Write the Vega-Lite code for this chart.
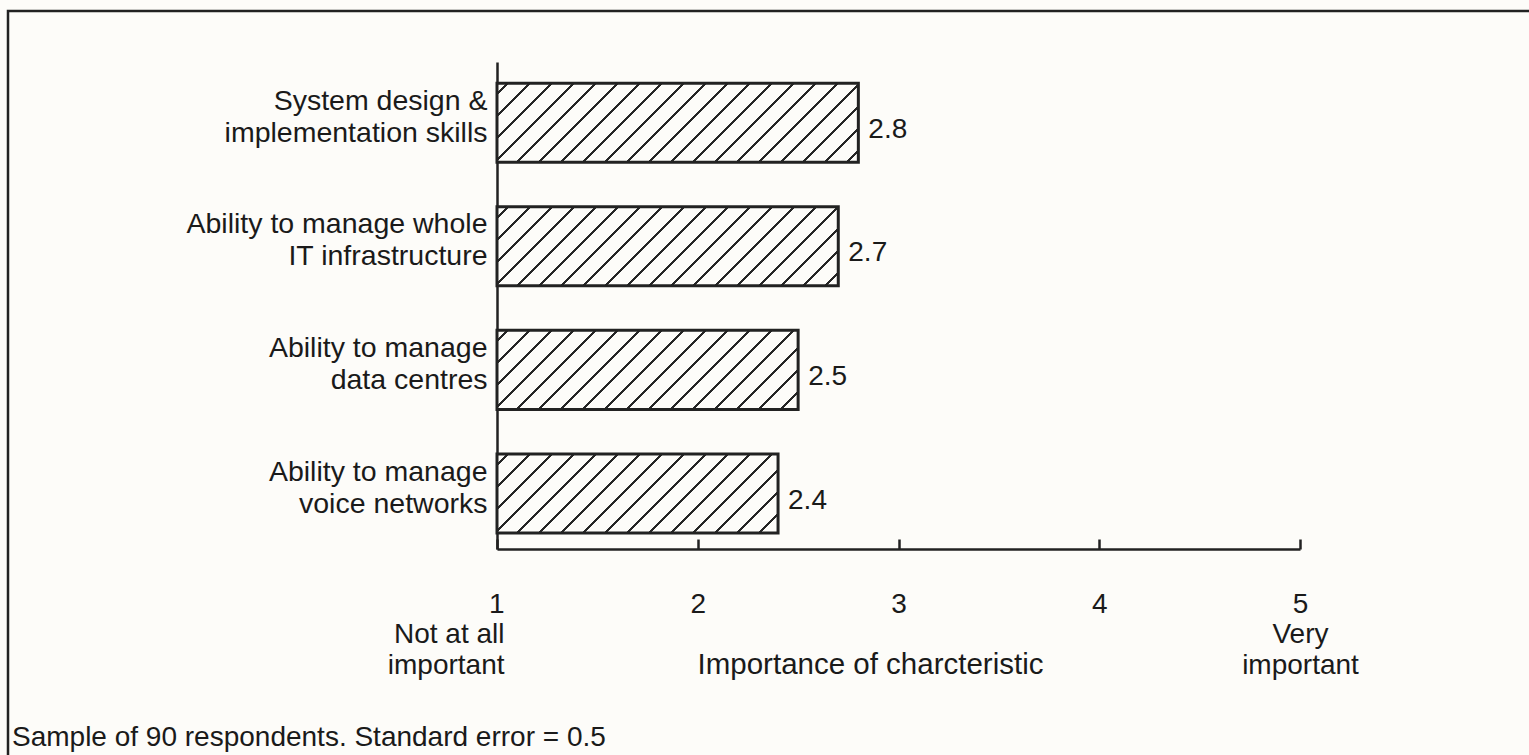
{
  "$schema": "https://vega.github.io/schema/vega-lite/v6.json",
  "width": 1524,
  "height": 747,
  "autosize": {"type": "none"},
  "padding": {"left": 8, "top": 11, "right": 0, "bottom": 0},
  "background": "#fdfcf9",
  "config": {
    "font": "Liberation Sans",
    "view": {"stroke": "#222222", "strokeWidth": 2.5}
  },
  "title": {
    "text": "Sample of 90 respondents. Standard error = 0.5",
    "orient": "bottom",
    "anchor": "start",
    "frame": "group",
    "offset": -12,
    "dx": 4,
    "baseline": "alphabetic",
    "font": "Liberation Sans",
    "fontSize": 28,
    "fontWeight": "normal",
    "color": "#1a1a1a"
  },
  "data": {
    "values": [
      {"skill": "System design &\nimplementation skills", "score": 2.8},
      {"skill": "Ability to manage whole\nIT infrastructure", "score": 2.7},
      {"skill": "Ability to manage\ndata centres", "score": 2.5},
      {"skill": "Ability to manage\nvoice networks", "score": 2.4}
    ]
  },
  "layer": [
    {
      "mark": {"type": "bar", "stroke": "#222222", "strokeWidth": 3},
      "encoding": {
        "x": {
          "field": "score",
          "type": "quantitative",
          "scale": {"domain": [1, 5], "range": [489, 1292], "nice": false, "zero": false},
          "axis": {
            "orient": "bottom",
            "offset": -209,
            "values": [1, 2, 3, 4, 5],
            "format": "d",
            "grid": false,
            "domainColor": "#222222",
            "domainWidth": 2.5,
            "tickColor": "#222222",
            "tickWidth": 2.5,
            "tickSize": -10,
            "labelFont": "Liberation Sans",
            "labelFontSize": 28,
            "labelColor": "#1a1a1a",
            "labelFlush": false,
            "labelOverlap": false,
            "labelBound": false,
            "labelPadding": 51,
            "labelBaseline": "top",
            "labelLineHeight": 30.5,
            "labelExpr": "datum.value == 1 ? ['1', 'Not at all', 'important'] : datum.value == 5 ? ['5', 'Very', 'important'] : datum.label",
            "labelAlign": {"condition": {"test": "datum.value == 1", "value": "right"}, "value": "center"},
            "labelOffset": {"condition": {"test": "datum.value == 1", "value": 7}, "value": 0},
            "title": "Importance of charcteristic",
            "titleFont": "Liberation Sans",
            "titleFontSize": 29.5,
            "titleFontWeight": "normal",
            "titleColor": "#1a1a1a",
            "titleX": 862,
            "titleY": 124,
            "titleAlign": "center",
            "titleBaseline": "alphabetic"
          }
        },
        "x2": {"datum": 1},
        "y": {
          "field": "skill",
          "type": "nominal",
          "sort": null,
          "scale": {"range": [51, 538], "paddingInner": 0.36, "paddingOuter": 0.15, "align": 0.57},
          "axis": {
            "orient": "left",
            "offset": -489,
            "title": null,
            "ticks": false,
            "grid": false,
            "domainColor": "#222222",
            "domainWidth": 2.5,
            "labelFont": "Liberation Sans",
            "labelFontSize": 28.5,
            "labelColor": "#1a1a1a",
            "labelPadding": 10,
            "labelLineHeight": 32,
            "labelLimit": 0,
            "labelOffset": -22,
            "labelExpr": "split(datum.label, '\\n')"
          }
        },
        "fill": {
          "condition": [
            {"test": "datum.score == 2.8", "value": {"gradient": "linear", "x1": 0, "y1": 0, "x2": 1.1632, "y2": 0.2546, "stops": [
              {"offset": 0, "color": "#fdfcf9"},
              {"offset": 0.02134, "color": "#fdfcf9"}, {"offset": 0.02134, "color": "#262626"}, {"offset": 0.02861, "color": "#262626"}, {"offset": 0.02861, "color": "#fdfcf9"},
              {"offset": 0.07129, "color": "#fdfcf9"}, {"offset": 0.07129, "color": "#262626"}, {"offset": 0.07856, "color": "#262626"}, {"offset": 0.07856, "color": "#fdfcf9"},
              {"offset": 0.12124, "color": "#fdfcf9"}, {"offset": 0.12124, "color": "#262626"}, {"offset": 0.12851, "color": "#262626"}, {"offset": 0.12851, "color": "#fdfcf9"},
              {"offset": 0.17119, "color": "#fdfcf9"}, {"offset": 0.17119, "color": "#262626"}, {"offset": 0.17846, "color": "#262626"}, {"offset": 0.17846, "color": "#fdfcf9"},
              {"offset": 0.22114, "color": "#fdfcf9"}, {"offset": 0.22114, "color": "#262626"}, {"offset": 0.22841, "color": "#262626"}, {"offset": 0.22841, "color": "#fdfcf9"},
              {"offset": 0.27109, "color": "#fdfcf9"}, {"offset": 0.27109, "color": "#262626"}, {"offset": 0.27836, "color": "#262626"}, {"offset": 0.27836, "color": "#fdfcf9"},
              {"offset": 0.32104, "color": "#fdfcf9"}, {"offset": 0.32104, "color": "#262626"}, {"offset": 0.32831, "color": "#262626"}, {"offset": 0.32831, "color": "#fdfcf9"},
              {"offset": 0.37098, "color": "#fdfcf9"}, {"offset": 0.37098, "color": "#262626"}, {"offset": 0.37825, "color": "#262626"}, {"offset": 0.37825, "color": "#fdfcf9"},
              {"offset": 0.42093, "color": "#fdfcf9"}, {"offset": 0.42093, "color": "#262626"}, {"offset": 0.42820, "color": "#262626"}, {"offset": 0.42820, "color": "#fdfcf9"},
              {"offset": 0.47088, "color": "#fdfcf9"}, {"offset": 0.47088, "color": "#262626"}, {"offset": 0.47815, "color": "#262626"}, {"offset": 0.47815, "color": "#fdfcf9"},
              {"offset": 0.52083, "color": "#fdfcf9"}, {"offset": 0.52083, "color": "#262626"}, {"offset": 0.52810, "color": "#262626"}, {"offset": 0.52810, "color": "#fdfcf9"},
              {"offset": 0.57078, "color": "#fdfcf9"}, {"offset": 0.57078, "color": "#262626"}, {"offset": 0.57805, "color": "#262626"}, {"offset": 0.57805, "color": "#fdfcf9"},
              {"offset": 0.62073, "color": "#fdfcf9"}, {"offset": 0.62073, "color": "#262626"}, {"offset": 0.62800, "color": "#262626"}, {"offset": 0.62800, "color": "#fdfcf9"},
              {"offset": 0.67068, "color": "#fdfcf9"}, {"offset": 0.67068, "color": "#262626"}, {"offset": 0.67795, "color": "#262626"}, {"offset": 0.67795, "color": "#fdfcf9"},
              {"offset": 0.72063, "color": "#fdfcf9"}, {"offset": 0.72063, "color": "#262626"}, {"offset": 0.72790, "color": "#262626"}, {"offset": 0.72790, "color": "#fdfcf9"},
              {"offset": 0.77058, "color": "#fdfcf9"}, {"offset": 0.77058, "color": "#262626"}, {"offset": 0.77785, "color": "#262626"}, {"offset": 0.77785, "color": "#fdfcf9"},
              {"offset": 0.82052, "color": "#fdfcf9"}, {"offset": 0.82052, "color": "#262626"}, {"offset": 0.82779, "color": "#262626"}, {"offset": 0.82779, "color": "#fdfcf9"},
              {"offset": 0.87047, "color": "#fdfcf9"}, {"offset": 0.87047, "color": "#262626"}, {"offset": 0.87774, "color": "#262626"}, {"offset": 0.87774, "color": "#fdfcf9"},
              {"offset": 0.92042, "color": "#fdfcf9"}, {"offset": 0.92042, "color": "#262626"}, {"offset": 0.92769, "color": "#262626"}, {"offset": 0.92769, "color": "#fdfcf9"},
              {"offset": 0.97037, "color": "#fdfcf9"}, {"offset": 0.97037, "color": "#262626"}, {"offset": 0.97764, "color": "#262626"}, {"offset": 0.97764, "color": "#fdfcf9"},
              {"offset": 1, "color": "#fdfcf9"}
            ]}},
            {"test": "datum.score == 2.7", "value": {"gradient": "linear", "x1": 0, "y1": 0, "x2": 1.1690, "y2": 0.2710, "stops": [
              {"offset": 0, "color": "#fdfcf9"},
              {"offset": 0.02236, "color": "#fdfcf9"}, {"offset": 0.02236, "color": "#262626"}, {"offset": 0.02997, "color": "#262626"}, {"offset": 0.02997, "color": "#fdfcf9"},
              {"offset": 0.07470, "color": "#fdfcf9"}, {"offset": 0.07470, "color": "#262626"}, {"offset": 0.08231, "color": "#262626"}, {"offset": 0.08231, "color": "#fdfcf9"},
              {"offset": 0.12703, "color": "#fdfcf9"}, {"offset": 0.12703, "color": "#262626"}, {"offset": 0.13464, "color": "#262626"}, {"offset": 0.13464, "color": "#fdfcf9"},
              {"offset": 0.17936, "color": "#fdfcf9"}, {"offset": 0.17936, "color": "#262626"}, {"offset": 0.18697, "color": "#262626"}, {"offset": 0.18697, "color": "#fdfcf9"},
              {"offset": 0.23170, "color": "#fdfcf9"}, {"offset": 0.23170, "color": "#262626"}, {"offset": 0.23931, "color": "#262626"}, {"offset": 0.23931, "color": "#fdfcf9"},
              {"offset": 0.28403, "color": "#fdfcf9"}, {"offset": 0.28403, "color": "#262626"}, {"offset": 0.29164, "color": "#262626"}, {"offset": 0.29164, "color": "#fdfcf9"},
              {"offset": 0.33637, "color": "#fdfcf9"}, {"offset": 0.33637, "color": "#262626"}, {"offset": 0.34398, "color": "#262626"}, {"offset": 0.34398, "color": "#fdfcf9"},
              {"offset": 0.38870, "color": "#fdfcf9"}, {"offset": 0.38870, "color": "#262626"}, {"offset": 0.39631, "color": "#262626"}, {"offset": 0.39631, "color": "#fdfcf9"},
              {"offset": 0.44103, "color": "#fdfcf9"}, {"offset": 0.44103, "color": "#262626"}, {"offset": 0.44864, "color": "#262626"}, {"offset": 0.44864, "color": "#fdfcf9"},
              {"offset": 0.49337, "color": "#fdfcf9"}, {"offset": 0.49337, "color": "#262626"}, {"offset": 0.50098, "color": "#262626"}, {"offset": 0.50098, "color": "#fdfcf9"},
              {"offset": 0.54570, "color": "#fdfcf9"}, {"offset": 0.54570, "color": "#262626"}, {"offset": 0.55331, "color": "#262626"}, {"offset": 0.55331, "color": "#fdfcf9"},
              {"offset": 0.59804, "color": "#fdfcf9"}, {"offset": 0.59804, "color": "#262626"}, {"offset": 0.60565, "color": "#262626"}, {"offset": 0.60565, "color": "#fdfcf9"},
              {"offset": 0.65037, "color": "#fdfcf9"}, {"offset": 0.65037, "color": "#262626"}, {"offset": 0.65798, "color": "#262626"}, {"offset": 0.65798, "color": "#fdfcf9"},
              {"offset": 0.70270, "color": "#fdfcf9"}, {"offset": 0.70270, "color": "#262626"}, {"offset": 0.71031, "color": "#262626"}, {"offset": 0.71031, "color": "#fdfcf9"},
              {"offset": 0.75504, "color": "#fdfcf9"}, {"offset": 0.75504, "color": "#262626"}, {"offset": 0.76265, "color": "#262626"}, {"offset": 0.76265, "color": "#fdfcf9"},
              {"offset": 0.80737, "color": "#fdfcf9"}, {"offset": 0.80737, "color": "#262626"}, {"offset": 0.81498, "color": "#262626"}, {"offset": 0.81498, "color": "#fdfcf9"},
              {"offset": 0.85971, "color": "#fdfcf9"}, {"offset": 0.85971, "color": "#262626"}, {"offset": 0.86732, "color": "#262626"}, {"offset": 0.86732, "color": "#fdfcf9"},
              {"offset": 0.91204, "color": "#fdfcf9"}, {"offset": 0.91204, "color": "#262626"}, {"offset": 0.91965, "color": "#262626"}, {"offset": 0.91965, "color": "#fdfcf9"},
              {"offset": 0.96437, "color": "#fdfcf9"}, {"offset": 0.96437, "color": "#262626"}, {"offset": 0.97198, "color": "#262626"}, {"offset": 0.97198, "color": "#fdfcf9"},
              {"offset": 1, "color": "#fdfcf9"}
            ]}},
            {"test": "datum.score == 2.5", "value": {"gradient": "linear", "x1": 0, "y1": 0, "x2": 1.1812, "y2": 0.3103, "stops": [
              {"offset": 0, "color": "#fdfcf9"},
              {"offset": 0.02472, "color": "#fdfcf9"}, {"offset": 0.02472, "color": "#262626"}, {"offset": 0.03314, "color": "#262626"}, {"offset": 0.03314, "color": "#fdfcf9"},
              {"offset": 0.08258, "color": "#fdfcf9"}, {"offset": 0.08258, "color": "#262626"}, {"offset": 0.09100, "color": "#262626"}, {"offset": 0.09100, "color": "#fdfcf9"},
              {"offset": 0.14044, "color": "#fdfcf9"}, {"offset": 0.14044, "color": "#262626"}, {"offset": 0.14886, "color": "#262626"}, {"offset": 0.14886, "color": "#fdfcf9"},
              {"offset": 0.19830, "color": "#fdfcf9"}, {"offset": 0.19830, "color": "#262626"}, {"offset": 0.20672, "color": "#262626"}, {"offset": 0.20672, "color": "#fdfcf9"},
              {"offset": 0.25616, "color": "#fdfcf9"}, {"offset": 0.25616, "color": "#262626"}, {"offset": 0.26458, "color": "#262626"}, {"offset": 0.26458, "color": "#fdfcf9"},
              {"offset": 0.31402, "color": "#fdfcf9"}, {"offset": 0.31402, "color": "#262626"}, {"offset": 0.32244, "color": "#262626"}, {"offset": 0.32244, "color": "#fdfcf9"},
              {"offset": 0.37188, "color": "#fdfcf9"}, {"offset": 0.37188, "color": "#262626"}, {"offset": 0.38030, "color": "#262626"}, {"offset": 0.38030, "color": "#fdfcf9"},
              {"offset": 0.42974, "color": "#fdfcf9"}, {"offset": 0.42974, "color": "#262626"}, {"offset": 0.43816, "color": "#262626"}, {"offset": 0.43816, "color": "#fdfcf9"},
              {"offset": 0.48760, "color": "#fdfcf9"}, {"offset": 0.48760, "color": "#262626"}, {"offset": 0.49602, "color": "#262626"}, {"offset": 0.49602, "color": "#fdfcf9"},
              {"offset": 0.54546, "color": "#fdfcf9"}, {"offset": 0.54546, "color": "#262626"}, {"offset": 0.55388, "color": "#262626"}, {"offset": 0.55388, "color": "#fdfcf9"},
              {"offset": 0.60332, "color": "#fdfcf9"}, {"offset": 0.60332, "color": "#262626"}, {"offset": 0.61174, "color": "#262626"}, {"offset": 0.61174, "color": "#fdfcf9"},
              {"offset": 0.66118, "color": "#fdfcf9"}, {"offset": 0.66118, "color": "#262626"}, {"offset": 0.66960, "color": "#262626"}, {"offset": 0.66960, "color": "#fdfcf9"},
              {"offset": 0.71904, "color": "#fdfcf9"}, {"offset": 0.71904, "color": "#262626"}, {"offset": 0.72746, "color": "#262626"}, {"offset": 0.72746, "color": "#fdfcf9"},
              {"offset": 0.77690, "color": "#fdfcf9"}, {"offset": 0.77690, "color": "#262626"}, {"offset": 0.78532, "color": "#262626"}, {"offset": 0.78532, "color": "#fdfcf9"},
              {"offset": 0.83476, "color": "#fdfcf9"}, {"offset": 0.83476, "color": "#262626"}, {"offset": 0.84318, "color": "#262626"}, {"offset": 0.84318, "color": "#fdfcf9"},
              {"offset": 0.89262, "color": "#fdfcf9"}, {"offset": 0.89262, "color": "#262626"}, {"offset": 0.90104, "color": "#262626"}, {"offset": 0.90104, "color": "#fdfcf9"},
              {"offset": 0.95048, "color": "#fdfcf9"}, {"offset": 0.95048, "color": "#262626"}, {"offset": 0.95890, "color": "#262626"}, {"offset": 0.95890, "color": "#fdfcf9"},
              {"offset": 1, "color": "#fdfcf9"}
            ]}}
          ],
          "value": {"gradient": "linear", "x1": 0, "y1": 0, "x2": 1.1874, "y2": 0.3341, "stops": [
            {"offset": 0, "color": "#fdfcf9"},
            {"offset": 0.02610, "color": "#fdfcf9"}, {"offset": 0.02610, "color": "#262626"}, {"offset": 0.03499, "color": "#262626"}, {"offset": 0.03499, "color": "#fdfcf9"},
            {"offset": 0.08719, "color": "#fdfcf9"}, {"offset": 0.08719, "color": "#262626"}, {"offset": 0.09608, "color": "#262626"}, {"offset": 0.09608, "color": "#fdfcf9"},
            {"offset": 0.14827, "color": "#fdfcf9"}, {"offset": 0.14827, "color": "#262626"}, {"offset": 0.15716, "color": "#262626"}, {"offset": 0.15716, "color": "#fdfcf9"},
            {"offset": 0.20936, "color": "#fdfcf9"}, {"offset": 0.20936, "color": "#262626"}, {"offset": 0.21825, "color": "#262626"}, {"offset": 0.21825, "color": "#fdfcf9"},
            {"offset": 0.27044, "color": "#fdfcf9"}, {"offset": 0.27044, "color": "#262626"}, {"offset": 0.27933, "color": "#262626"}, {"offset": 0.27933, "color": "#fdfcf9"},
            {"offset": 0.33153, "color": "#fdfcf9"}, {"offset": 0.33153, "color": "#262626"}, {"offset": 0.34042, "color": "#262626"}, {"offset": 0.34042, "color": "#fdfcf9"},
            {"offset": 0.39261, "color": "#fdfcf9"}, {"offset": 0.39261, "color": "#262626"}, {"offset": 0.40150, "color": "#262626"}, {"offset": 0.40150, "color": "#fdfcf9"},
            {"offset": 0.45370, "color": "#fdfcf9"}, {"offset": 0.45370, "color": "#262626"}, {"offset": 0.46259, "color": "#262626"}, {"offset": 0.46259, "color": "#fdfcf9"},
            {"offset": 0.51478, "color": "#fdfcf9"}, {"offset": 0.51478, "color": "#262626"}, {"offset": 0.52367, "color": "#262626"}, {"offset": 0.52367, "color": "#fdfcf9"},
            {"offset": 0.57587, "color": "#fdfcf9"}, {"offset": 0.57587, "color": "#262626"}, {"offset": 0.58476, "color": "#262626"}, {"offset": 0.58476, "color": "#fdfcf9"},
            {"offset": 0.63695, "color": "#fdfcf9"}, {"offset": 0.63695, "color": "#262626"}, {"offset": 0.64584, "color": "#262626"}, {"offset": 0.64584, "color": "#fdfcf9"},
            {"offset": 0.69804, "color": "#fdfcf9"}, {"offset": 0.69804, "color": "#262626"}, {"offset": 0.70693, "color": "#262626"}, {"offset": 0.70693, "color": "#fdfcf9"},
            {"offset": 0.75912, "color": "#fdfcf9"}, {"offset": 0.75912, "color": "#262626"}, {"offset": 0.76801, "color": "#262626"}, {"offset": 0.76801, "color": "#fdfcf9"},
            {"offset": 0.82021, "color": "#fdfcf9"}, {"offset": 0.82021, "color": "#262626"}, {"offset": 0.82910, "color": "#262626"}, {"offset": 0.82910, "color": "#fdfcf9"},
            {"offset": 0.88129, "color": "#fdfcf9"}, {"offset": 0.88129, "color": "#262626"}, {"offset": 0.89018, "color": "#262626"}, {"offset": 0.89018, "color": "#fdfcf9"},
            {"offset": 0.94238, "color": "#fdfcf9"}, {"offset": 0.94238, "color": "#262626"}, {"offset": 0.95127, "color": "#262626"}, {"offset": 0.95127, "color": "#fdfcf9"},
            {"offset": 1, "color": "#fdfcf9"}
          ]}
        }
      }
    },
    {
      "mark": {"type": "text", "align": "left", "baseline": "middle", "dx": 10, "dy": 7, "font": "Liberation Sans", "fontSize": 28, "color": "#1a1a1a"},
      "encoding": {
        "x": {"field": "score", "type": "quantitative"},
        "y": {"field": "skill", "type": "nominal", "sort": null},
        "text": {"field": "score", "type": "quantitative", "format": ".1f"}
      }
    }
  ]
}
